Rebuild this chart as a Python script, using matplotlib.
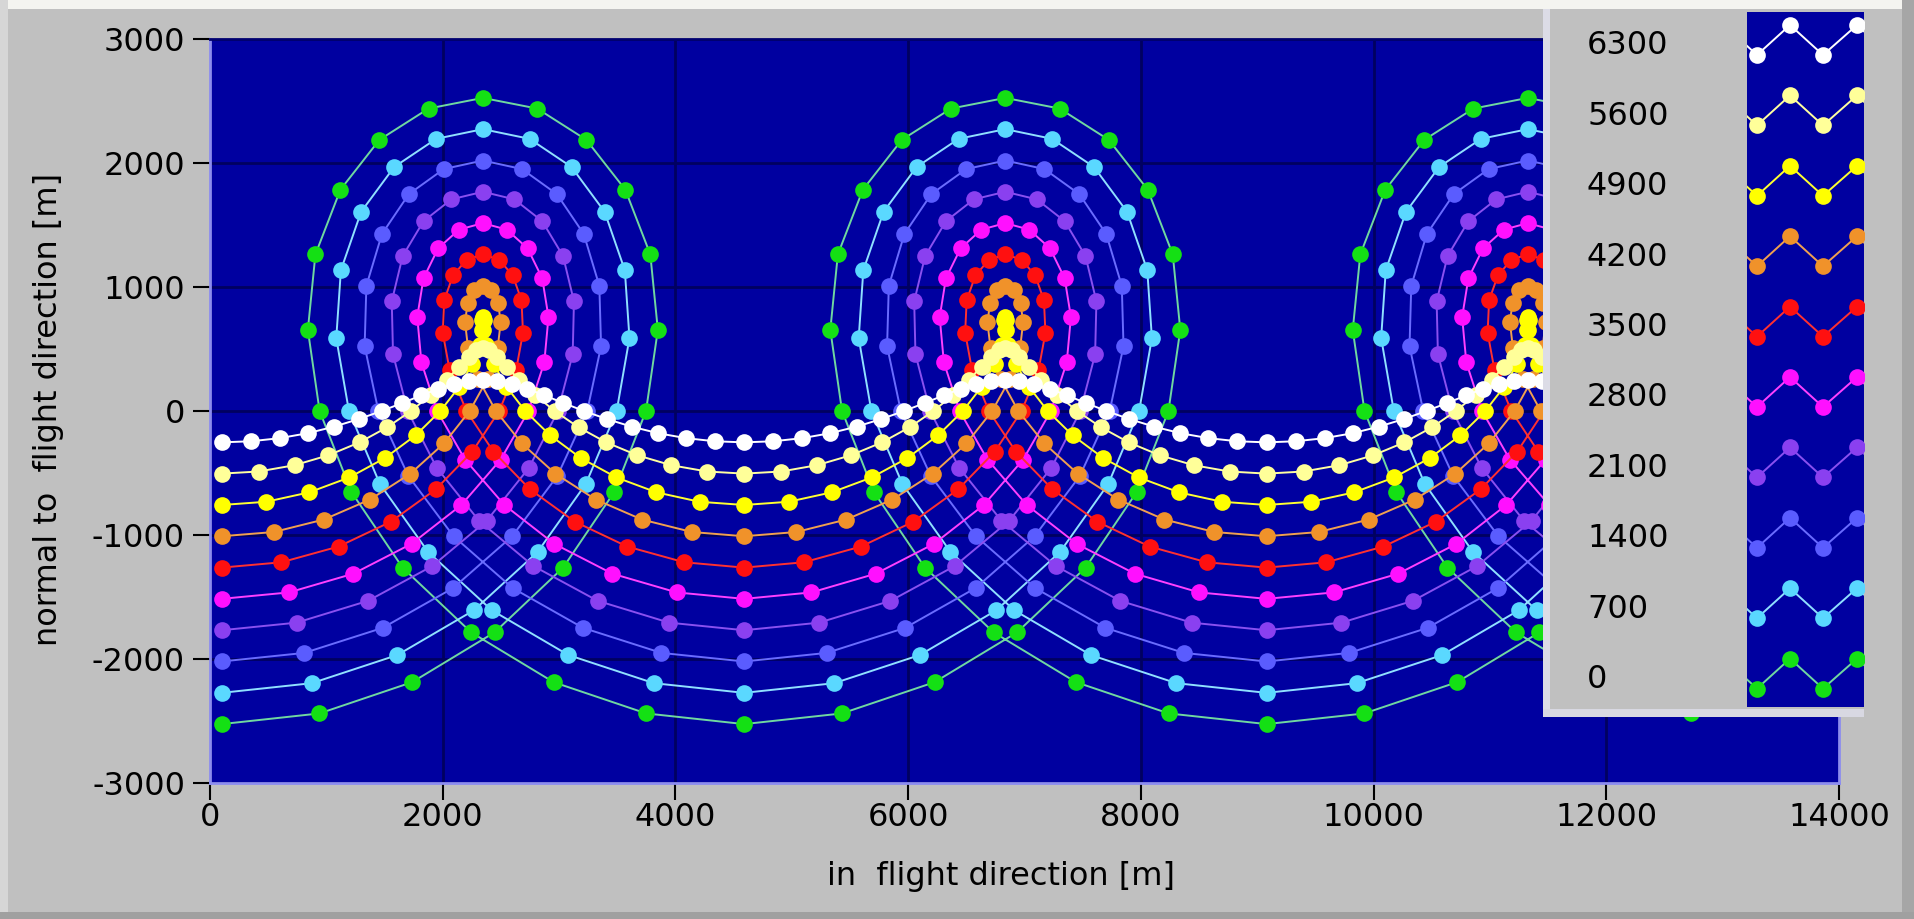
import numpy as np
import matplotlib
matplotlib.use("Agg")
import matplotlib.pyplot as plt
from matplotlib.patches import Rectangle

plt.rcParams['axes.unicode_minus'] = False

# legend entries, top to bottom, and their colours
labels = ['6300', '5600', '4900', '4200', '3500', '2800', '2100', '1400', '700', '0']
marker_colors = ['#ffffff', '#ffff99', '#ffff00', '#f0922a', '#ff1010',
                 '#ff10ff', '#8a40f0', '#5a5cff', '#5ad8ff', '#14e014']
line_colors = ['#ffffff', '#ffffa0', '#ffff30', '#f0a050', '#ff3030',
               '#ff40ff', '#8a50f0', '#6a6cff', '#90e0ff', '#70d8a0']

# one pass of each track (24 samples), x and y in metres
x_6300 = [100, 352, 600, 840, 1067, 1279, 1475, 1654, 1816, 1963, 2097, 2223,
          2345, 2467, 2593, 2727, 2874, 3036, 3214, 3411, 3623, 3850, 4090, 4338]
y_6300 = [-253, -244, -219, -179, -126, -65, 0, 65, 126, 179, 219, 244,
          253, 244, 219, 179, 126, 65, 0, -65, -126, -179, -219, -244]
x_5600 = [100, 418, 727, 1018, 1285, 1523, 1727, 1898, 2034, 2141, 2224, 2289,
          2345, 2401, 2466, 2549, 2656, 2792, 2962, 3167, 3405, 3672, 3963, 4272]
y_5600 = [-505, -488, -437, -357, -253, -131, 0, 131, 253, 357, 437, 488,
          505, 488, 437, 357, 253, 131, 0, -131, -253, -357, -437, -488]
x_4900 = [100, 483, 853, 1197, 1504, 1767, 1980, 2142, 2253, 2320, 2350, 2354,
          2345, 2336, 2340, 2370, 2437, 2548, 2709, 2923, 3186, 3493, 3837, 4207]
y_4900 = [-758, -732, -656, -536, -379, -196, 0, 196, 379, 536, 656, 732,
          758, 732, 656, 536, 379, 196, 0, -196, -379, -536, -656, -732]
x_4200 = [100, 548, 979, 1375, 1723, 2011, 2232, 2386, 2472, 2498, 2476, 2419,
          2345, 2271, 2214, 2192, 2218, 2304, 2457, 2679, 2967, 3315, 3711, 4142]
y_4200 = [-1010, -976, -875, -714, -505, -261, 0, 261, 505, 714, 875, 976,
          1010, 976, 875, 714, 505, 261, 0, -261, -505, -714, -875, -976]
x_3500 = [100, 614, 1105, 1554, 1941, 2255, 2485, 2630, 2690, 2677, 2602, 2485,
          2345, 2205, 2088, 2013, 2000, 2060, 2204, 2435, 2749, 3136, 3585, 4076]
y_3500 = [-1263, -1220, -1093, -893, -631, -327, 0, 327, 631, 893, 1093, 1220,
          1263, 1220, 1093, 893, 631, 327, 0, -327, -631, -893, -1093, -1220]
x_2800 = [100, 679, 1232, 1732, 2160, 2498, 2737, 2873, 2909, 2855, 2729, 2550,
          2345, 2140, 1961, 1835, 1781, 1817, 1952, 2192, 2530, 2958, 3458, 4011]
y_2800 = [-1515, -1463, -1312, -1071, -758, -392, 0, 392, 758, 1071, 1312, 1463,
          1515, 1463, 1312, 1071, 758, 392, 0, -392, -758, -1071, -1312, -1463]
x_2100 = [100, 744, 1358, 1911, 2379, 2742, 2990, 3117, 3128, 3034, 2855, 2615,
          2345, 2075, 1835, 1656, 1562, 1573, 1699, 1948, 2311, 2779, 3332, 3946]
y_2100 = [-1768, -1707, -1531, -1250, -884, -457, 0, 457, 884, 1250, 1531, 1707,
          1768, 1707, 1531, 1250, 884, 457, 0, -457, -884, -1250, -1531, -1707]
x_1400 = [100, 810, 1484, 2089, 2597, 2986, 3242, 3361, 3346, 3212, 2981, 2681,
          2345, 2009, 1709, 1478, 1344, 1329, 1447, 1704, 2093, 2601, 3206, 3880]
y_1400 = [-2020, -1951, -1749, -1428, -1010, -523, 0, 523, 1010, 1428, 1749, 1951,
          2020, 1951, 1749, 1428, 1010, 523, 0, -523, -1010, -1428, -1749, -1951]
x_700 = [100, 875, 1610, 2268, 2816, 3230, 3495, 3605, 3565, 3391, 3107, 2746,
         2345, 1944, 1583, 1299, 1125, 1085, 1194, 1460, 1874, 2422, 3080, 3815]
y_700 = [-2273, -2195, -1968, -1607, -1136, -588, 0, 588, 1136, 1607, 1968, 2195,
         2273, 2195, 1968, 1607, 1136, 588, 0, -588, -1136, -1607, -1968, -2195]
x_0 = [100, 941, 1737, 2446, 3035, 3474, 3747, 3849, 3784, 3569, 3234, 2812,
       2345, 1878, 1456, 1121, 906, 841, 942, 1216, 1655, 2244, 2953, 3749]
y_0 = [-2525, -2439, -2187, -1785, -1263, -654, 0, 654, 1263, 1785, 2187, 2439,
       2525, 2439, 2187, 1785, 1263, 654, 0, -654, -1263, -1785, -2187, -2439]

# start of each of the three passes along the flight direction [m]
pass_shift = [0, 4490, 8980]

tracks_x = [x_6300, x_5600, x_4900, x_4200, x_3500, x_2800, x_2100, x_1400, x_700, x_0]
tracks_y = [y_6300, y_5600, y_4900, y_4200, y_3500, y_2800, y_2100, y_1400, y_700, y_0]

W, H = 1914, 919


def box(left, top, w, h):
    # pixel box (from top-left) -> figure fraction
    return [left / W, 1 - (top + h) / H, w / W, h / H]


fig = plt.figure(figsize=(W / 100, H / 100), dpi=100, facecolor='#c0c0c0')

ax = fig.add_axes(box(210, 39, 1629, 744))
ax.set_facecolor('#0000a0')

for i in range(len(labels)):
    xs = np.concatenate([np.array(tracks_x[i]) + s for s in pass_shift])
    ys = np.concatenate([np.array(tracks_y[i]) for s in pass_shift])
    ax.plot(xs, ys, color=line_colors[i], lw=1.4, zorder=20 - i)
    ax.plot(xs, ys, 'o', color=marker_colors[i], ms=12, mew=0, zorder=20 - i)

ax.set_xlim(0, 14000)
ax.set_ylim(-3000, 3000)
ax.set_xticks(np.arange(0, 14001, 2000))
ax.set_yticks(np.arange(-3000, 3001, 1000))
ax.set_axisbelow(True)
ax.grid(True, color='#000060', linewidth=2)
ax.tick_params(axis='both', direction='out', length=12, width=1.5, labelsize=23)
ax.tick_params(axis='y', pad=6)
ax.tick_params(axis='x', pad=2)
for s in ax.spines.values():
    s.set_color('#8c8cf0')
    s.set_linewidth(2)
ax.spines['top'].set_color('#000070')

fig.text(1001 / W, 1 - 877 / H, 'in  flight direction [m]', ha='center', va='center', fontsize=23)
fig.text(49 / W, 1 - 409 / H, 'normal to  flight direction [m]', ha='center', va='center',
         rotation=90, fontsize=23)

# legend panel
leg = fig.add_axes(box(1543, 0, 321, 717), zorder=10)
leg.set_xlim(1543, 1864)
leg.set_ylim(717, 0)
leg.axis('off')
leg.add_patch(Rectangle((1543, 0), 321, 717, facecolor='#c0c0c0', edgecolor='none'))
leg.add_patch(Rectangle((1543, 0), 7, 712, facecolor='#dcdce6', edgecolor='none'))
leg.add_patch(Rectangle((1543, 709), 321, 8, facecolor='#d8d8e2', edgecolor='none'))
sw = Rectangle((1747, 12), 117, 695, facecolor='#0000a0', edgecolor='none')
leg.add_patch(sw)

row_y = 46 + 70.4 * np.arange(len(labels))
sw_x = [1724, 1757, 1790, 1823, 1857, 1890]
sw_dy = [-15, 15, -15, 15, -15, 15]
for i, lab in enumerate(labels):
    leg.text(1587, row_y[i], lab, fontsize=23, ha='left', va='center')
    yy = row_y[i] - 6 + np.array(sw_dy)
    ln, = leg.plot(sw_x, yy, color=line_colors[i], lw=1.4)
    ln.set_clip_path(sw)
    leg.plot(sw_x[1:5], yy[1:5], 'o', color=marker_colors[i], ms=12, mew=0)

# window frame edges
fig.add_artist(Rectangle((0, 1 - 9 / H), 1, 9 / H, transform=fig.transFigure,
                         facecolor='#f4f4f0', edgecolor='none', zorder=20))
fig.add_artist(Rectangle((0, 0), 8 / W, 1, transform=fig.transFigure,
                         facecolor='#d6d6d6', edgecolor='none', zorder=20))
fig.add_artist(Rectangle((1 - 12 / W, 0), 12 / W, 1, transform=fig.transFigure,
                         facecolor='#a6a6a6', edgecolor='none', zorder=20))
fig.add_artist(Rectangle((0, 0), 1, 7 / H, transform=fig.transFigure,
                         facecolor='#a0a0a0', edgecolor='none', zorder=20))

fig.savefig('out.png', dpi=100, facecolor=fig.get_facecolor())
